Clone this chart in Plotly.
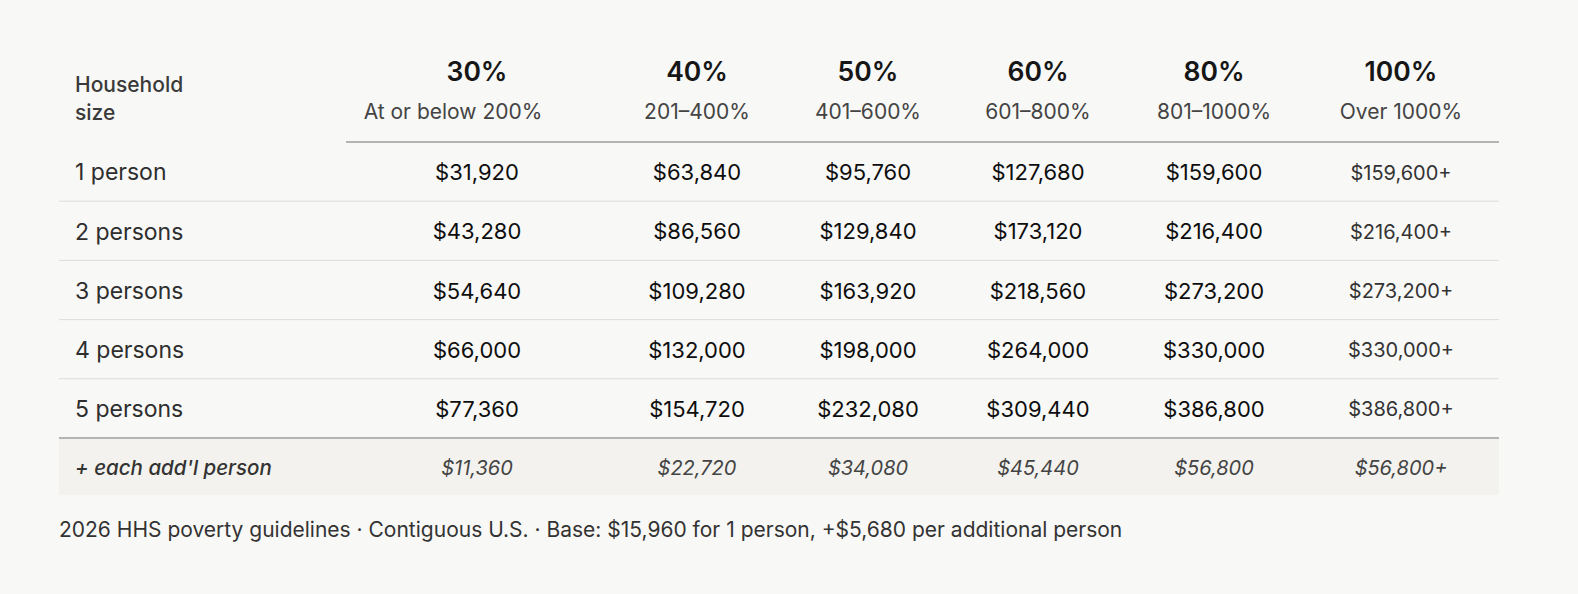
import plotly.graph_objects as go

# ---------------- data ----------------
household_sizes = ["1 person", "2 persons", "3 persons", "4 persons", "5 persons"]
tier_pcts = ["30%", "40%", "50%", "60%", "80%", "100%"]
tier_ranges = ["At or below 200%", "201–400%", "401–600%", "601–800%", "801–1000%", "Over 1000%"]
col_30 = [31920, 43280, 54640, 66000, 77360]
col_40 = [63840, 86560, 109280, 132000, 154720]
col_50 = [95760, 129840, 163920, 198000, 232080]
col_60 = [127680, 173120, 218560, 264000, 309440]
col_80 = [159600, 216400, 273200, 330000, 386800]
col_100 = [159600, 216400, 273200, 330000, 386800]  # shown as "X+"
addl_label = "+ each add'l person"
addl_values = [11360, 22720, 34080, 45440, 56800, 56800]
footnote = "2026 HHS poverty guidelines · Contiguous U.S. · Base: $15,960 for 1 person, +$5,680 per additional person"

# ---------------- layout constants ----------------
W, H = 1578, 594
FONT = "Inter"
BG = "#f8f8f6"
TABLE_L, TABLE_R = 59, 1499
HEAD_LINE_L = 346
COL_X = [477, 697, 868, 1038, 1214, 1401]
SUB_X = [453, 697, 868, 1038, 1214, 1401]
LABEL_X = 75
DY = 3  # text baseline correction
HEAD_PCT_Y, HEAD_SUB_Y = 71 + DY, 111 + DY
HEAD_LINE_Y = 142
ROW_H = 59.2
FOOT_TOP = HEAD_LINE_Y + ROW_H * 5
FOOT_BOT = 495
NOTE_Y = 529 + DY

row_y = [HEAD_LINE_Y + ROW_H * (i + 0.5) + DY for i in range(len(household_sizes))]
foot_y = (FOOT_TOP + FOOT_BOT) / 2 + DY

fig = go.Figure()

def text_trace(xs, ys, texts, size, color, weight=400, style="normal", pos="middle center"):
    fig.add_trace(go.Scatter(
        x=xs, y=ys, text=texts, mode="text", textposition=pos,
        textfont=dict(family=FONT, size=size, color=color, weight=weight, style=style),
        hoverinfo="skip", showlegend=False, cliponaxis=False))

# header
text_trace([LABEL_X, LABEL_X], [84 + DY, 112 + DY], ["Household", "size"], 21, "#3a3a3a", 500, pos="middle right")
text_trace(COL_X, [HEAD_PCT_Y] * 6, tier_pcts, 26.5, "#161616", 600)
text_trace(SUB_X, [HEAD_SUB_Y] * 6, tier_ranges, 21, "#444444")

# body
text_trace([LABEL_X] * 5, row_y, household_sizes, 23, "#2e2e2e", 400, pos="middle right")
cols = [col_30, col_40, col_50, col_60, col_80]
for j, col in enumerate(cols):
    text_trace([COL_X[j]] * 5, row_y, [f"${v:,}" for v in col], 22, "#0e0e0e", 400)
text_trace([COL_X[5]] * 5, row_y, [f"${v:,}+" for v in col_100], 20, "#333333")

# footer row
text_trace([LABEL_X], [foot_y], [addl_label], 20.5, "#333333", 500, "italic", pos="middle right")
addl_txt = [f"${v:,}" for v in addl_values[:5]] + [f"${addl_values[5]:,}+"]
text_trace(COL_X, [foot_y] * 6, addl_txt, 20, "#444444", 400, "italic")

# footnote
text_trace([TABLE_L], [NOTE_Y], [footnote], 21, "#333333", 400, pos="middle right")

shapes = [
    dict(type="rect", x0=TABLE_L, x1=TABLE_R, y0=FOOT_TOP, y1=FOOT_BOT,
         fillcolor="#f3f2ee", line=dict(width=0), layer="below"),
    dict(type="line", x0=HEAD_LINE_L, x1=TABLE_R, y0=HEAD_LINE_Y, y1=HEAD_LINE_Y,
         line=dict(color="#b4b4b4", width=2)),
    dict(type="line", x0=TABLE_L, x1=TABLE_R, y0=FOOT_TOP, y1=FOOT_TOP,
         line=dict(color="#b4b4b4", width=2)),
]
for i in range(1, 5):
    yy = HEAD_LINE_Y + ROW_H * i
    shapes.append(dict(type="line", x0=TABLE_L, x1=TABLE_R, y0=yy, y1=yy,
                       line=dict(color="#dcdcdc", width=1)))

fig.update_layout(
    width=W, height=H, margin=dict(l=0, r=0, t=0, b=0),
    paper_bgcolor=BG, plot_bgcolor=BG, shapes=shapes,
    xaxis=dict(range=[0, W], visible=False, fixedrange=True),
    yaxis=dict(range=[H, 0], visible=False, fixedrange=True),
)
fig.write_html(
    "out.html",
    config={"displayModeBar": False},
    post_script="document.body.style.margin='0';document.body.style.overflow='hidden';document.body.style.background='%s';" % BG,
)
